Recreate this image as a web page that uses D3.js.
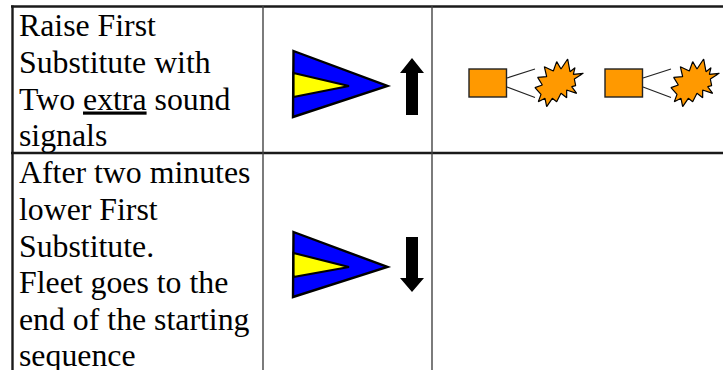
<!DOCTYPE html>
<html>
<head>
<meta charset="utf-8">
<script src="https://cdnjs.cloudflare.com/ajax/libs/d3/7.8.5/d3.min.js"></script>
<style>
  html, body { margin: 0; padding: 0; background: #fff; overflow: hidden; }
  text { font-family: "Liberation Serif", serif; font-size: 31.8px; fill: #000; }
</style>
</head>
<body>
<svg id="chart" width="723" height="370"></svg>
<script>
const rowTexts = [
  ['Raise First', 'Substitute with', 'Two extra sound', 'signals'],
  ['After two minutes', 'lower First', 'Substitute.', 'Fleet goes to the', 'end of the starting', 'sequence']
];
const rowArrows = ['up', 'down'];
const soundSignals = [0, 1];

const svg = d3.select('#chart');

// Lineas de la tabla
const gridH = [6.5, 153];
const gridV = [263, 432];
svg.selectAll('line.h').data(gridH).enter().append('line')
  .attr('x1', 11).attr('x2', 723)
  .attr('y1', d => d).attr('y2', d => d)
  .attr('stroke', '#1a1a1a').attr('stroke-width', 2.4);
svg.append('line')
  .attr('x1', 12.5).attr('x2', 12.5).attr('y1', 5.5).attr('y2', 370)
  .attr('stroke', '#1a1a1a').attr('stroke-width', 2.4);
svg.selectAll('line.v').data(gridV).enter().append('line')
  .attr('x1', d => d).attr('x2', d => d)
  .attr('y1', 6).attr('y2', 370)
  .attr('stroke', '#444').attr('stroke-width', 1.4);

// Texto de las filas
const rowY = [[35.5, 72.5, 109.5, 145.5], [182.5, 219.5, 256.5, 292.5, 329.5, 365.5]];
rowTexts.forEach((lines, r) => {
  lines.forEach((line, i) => {
    const t = svg.append('text').attr('x', 19).attr('y', rowY[r][i]);
    if (line.includes('extra')) {
      const parts = line.split('extra');
      t.append('tspan').text(parts[0]);
      t.append('tspan').attr('text-decoration', 'underline').text('extra');
      t.append('tspan').text(parts[1]);
    } else {
      t.text(line);
    }
  });
});

// Banderas
const line = d3.line();
function flag(g, top, yTop, tip, yBottom, bottom) {
  g.append('path')
    .attr('d', line([[293.5, top], [387.5, tip], [293, bottom]]) + 'Z')
    .attr('fill', '#0000ff').attr('stroke', '#000').attr('stroke-width', 2.4).attr('stroke-linejoin', 'miter');
  g.append('path')
    .attr('d', line([[293.5, yTop], [349, tip], [293.5, yBottom]]) + 'Z')
    .attr('fill', '#ffff00').attr('stroke', '#000').attr('stroke-width', 2.2);
}
flag(svg.append('g'), 51, 73, 86, 97, 117);
flag(svg.append('g'), 232, 253, 267, 277, 297);

// Flechas
const arrowSpec = { up: [58, 73, 115], down: [292, 278, 237] };
rowArrows.forEach(dir => {
  const [tip, wing, end] = arrowSpec[dir];
  svg.append('path')
    .attr('d', line([[412, tip], [424, wing], [418, wing], [418, end], [406, end], [406, wing], [400, wing]]) + 'Z')
    .attr('fill', '#000');
});

// Senales sonoras
const burstPts = [[338,42],[345,80],[360,68],[355,88],[385,85],[358,102],[362,122],[350,125],[365,145],[335,135],[335,158],[318,145],[305,170],[292,160],[275,185],[270,160],[250,170],[258,148],[240,128],[262,120],[248,97],[275,95],[268,65],[295,78],[305,50],[318,72]];
function burst(dx) {
  svg.append('polygon')
    .attr('points', burstPts.map(p => [455 + p[0] / 3 + dx, 45 + p[1] / 3].join(',')).join(' '))
    .attr('fill', '#ff9900').attr('stroke', '#000').attr('stroke-width', 1.2).attr('stroke-linejoin', 'bevel');
}
soundSignals.forEach((s, i) => {
  const dx = i * 136;
  svg.append('rect').attr('x', 469 + dx).attr('y', 69).attr('width', 37.5).attr('height', 28)
    .attr('fill', '#ff9900').attr('stroke', '#222').attr('stroke-width', 1.4);
  svg.append('path').attr('d', `M${507 + dx},78L${535 + dx},69M${507 + dx},87L${535 + dx},97.5`)
    .attr('stroke', '#222').attr('stroke-width', 1.2).attr('fill', 'none');
  burst(dx);
});
</script>
</body>
</html>
